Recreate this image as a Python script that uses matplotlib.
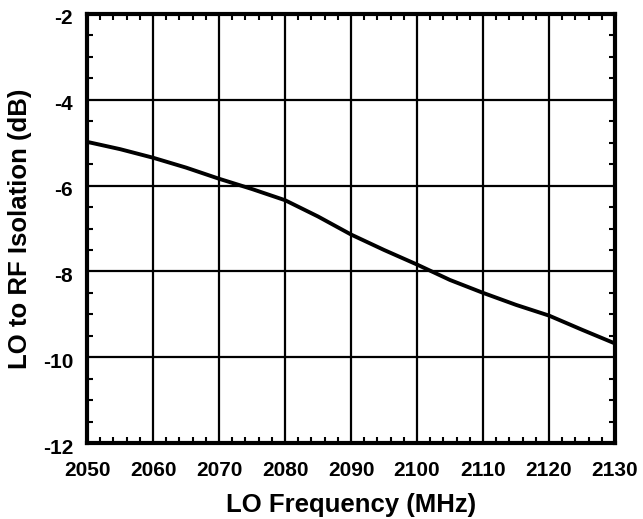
import matplotlib
matplotlib.use("Agg")
import matplotlib.pyplot as plt
import matplotlib.transforms as mtransforms
from matplotlib.ticker import MultipleLocator

# Data
freq_mhz = [2050, 2055, 2060, 2065, 2070, 2075, 2080, 2085, 2090,
            2095, 2100, 2105, 2110, 2115, 2120, 2125, 2130]
isolation_db = [-4.98, -5.15, -5.35, -5.58, -5.84, -6.08, -6.34, -6.72, -7.14,
                -7.50, -7.84, -8.20, -8.50, -8.78, -9.03, -9.36, -9.68]
x_ticks = [2050, 2060, 2070, 2080, 2090, 2100, 2110, 2120, 2130]
y_ticks = [-12, -10, -8, -6, -4, -2]

plt.rcParams['font.family'] = ['Liberation Sans', 'DejaVu Sans']
plt.rcParams['font.weight'] = 'bold'
plt.rcParams['axes.unicode_minus'] = False

fig = plt.figure(figsize=(6.43, 5.19), dpi=100)
ax = fig.add_axes([87 / 643, 1 - 443 / 519, (615 - 87) / 643, (443 - 14) / 519])

ax.plot(freq_mhz, isolation_db, color='black', lw=2.8, solid_capstyle='butt')

ax.set_xlim(2050, 2130)
ax.set_ylim(-12, -2)
ax.set_xticks(x_ticks)
ax.set_yticks(y_ticks)
ax.xaxis.set_minor_locator(MultipleLocator(2))
ax.yaxis.set_minor_locator(MultipleLocator(0.5))
ax.grid(True, which='major', color='black', lw=1.6)

ax.tick_params(which='both', direction='in', top=True, right=True, labelsize=15)
ax.tick_params(which='major', length=0)
ax.tick_params(which='minor', length=4, width=1.5)
ax.tick_params(axis='x', pad=13)
ax.tick_params(axis='y', pad=10)
for s in ax.spines.values():
    s.set_linewidth(3)

# y tick labels sit slightly below their grid lines in the reference
shift = mtransforms.ScaledTranslation(0, -3 / 100, fig.dpi_scale_trans)
for lbl in ax.get_yticklabels():
    lbl.set_transform(lbl.get_transform() + shift)

ax.set_xlabel("LO Frequency (MHz)", fontsize=18.5, fontweight='bold', labelpad=9)
ax.set_ylabel("LO to RF Isolation (dB)", fontsize=18.5, fontweight='bold', labelpad=8)

fig.savefig("out.png", dpi=100)
